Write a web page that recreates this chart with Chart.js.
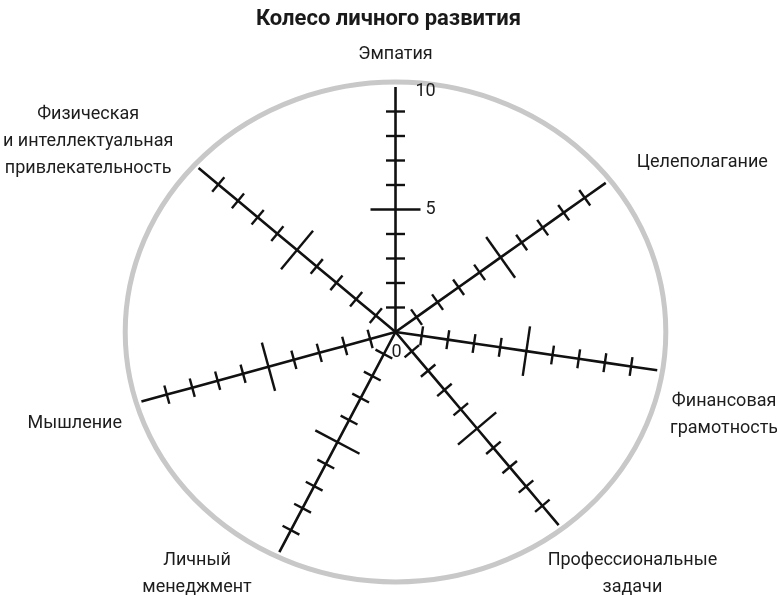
<!DOCTYPE html>
<html lang="ru">
<head>
<meta charset="utf-8">
<title>Колесо личного развития</title>
<script src="https://cdn.jsdelivr.net/npm/chart.js@4.4.1/dist/chart.umd.min.js"></script>
<style>
  html, body { margin: 0; padding: 0; background: #fff; }
</style>
</head>
<body>
<canvas id="wheel" width="777" height="596"></canvas>
<script>
// ================= DATA =================
const chartTitle = "Колесо личного развития";
const categories = [
    "Эмпатия",
    "Целеполагание",
    "Финансовая\nграмотность",
    "Профессиональные\nзадачи",
    "Личный\nменеджмент",
    "Мышление",
    "Физическая\nи интеллектуальная\nпривлекательность"
];
// direction of each spoke, degrees counter-clockwise from the right
const axisAngles = [90, 37.5, -9, -52, -116, -163.5, 138];
const scaleValues = [0, 1, 2, 3, 4, 5, 6, 7, 8, 9, 10];
const majorValue = 5;
const scaleLabelValues = [0, 5, 10];

// ================= LAYOUT =================
const labelAnchors = [
    { x: 0, y: 11.31, align: "center" },
    { x: 11.58, y: 6.9, align: "center" },
    { x: 12.4, y: -2.82, align: "center" },
    { x: 8.94, y: -9.31, align: "center" },
    { x: -7.49, y: -9.31, align: "center" },
    { x: -10.32, y: -3.73, align: "right" },
    { x: -11.6, y: 8.86, align: "center" }
];
const scaleLabelOffsets = [[1, 21], [35, 0], [30, 5]];
const RING = 10.2;
const LINE_GAP = 27;
const INK = "#111";

const rad = d => d * Math.PI / 180;

function pixelAngle(chart, deg) {
    const { x, y } = chart.scales;
    const kx = x.getPixelForValue(1) - x.getPixelForValue(0);
    const ky = y.getPixelForValue(0) - y.getPixelForValue(1);
    return Math.atan2(Math.sin(rad(deg)) * ky, Math.cos(rad(deg)) * kx) * 180 / Math.PI;
}

// ================= SPOKES =================
const first = scaleValues[0];
const last = scaleValues[scaleValues.length - 1];

const datasets = categories.map((name, i) => ({
    label: name,
    data: scaleValues.map(v => ({
        x: v * Math.cos(rad(axisAngles[i])),
        y: v * Math.sin(rad(axisAngles[i]))
    })),
    showLine: true,
    borderColor: INK,
    borderWidth: 2.6,
    pointStyle: "line",
    pointBorderColor: INK,
    pointBorderWidth: 2.4,
    pointRadius: ctx => {
        const v = scaleValues[ctx.dataIndex];
        if (v === first || v === last) return 0;
        return v === majorValue ? 25 : 9.5;
    },
    pointRotation: ctx => 90 - pixelAngle(ctx.chart, axisAngles[i])
}));

// ================= PLUGINS =================
const ringPlugin = {
    id: "ring",
    beforeDatasetsDraw(chart) {
        const { ctx, scales: { x, y } } = chart;
        const cx = x.getPixelForValue(0);
        const cy = y.getPixelForValue(0);
        ctx.save();
        ctx.beginPath();
        ctx.ellipse(cx, cy, x.getPixelForValue(RING) - cx, cy - y.getPixelForValue(RING), 0, 0, 2 * Math.PI);
        ctx.strokeStyle = "#c8c8c8";
        ctx.lineWidth = 5;
        ctx.stroke();
        ctx.restore();
    }
};

const labelPlugin = {
    id: "labels",
    afterDatasetsDraw(chart) {
        const { ctx, scales: { x, y } } = chart;
        ctx.save();
        ctx.fillStyle = "#1d1d1d";
        ctx.font = "18px Roboto";
        ctx.textBaseline = "middle";

        categories.forEach((name, i) => {
            const a = labelAnchors[i];
            const px = x.getPixelForValue(a.x);
            const py = y.getPixelForValue(a.y);
            ctx.textAlign = a.align;
            name.split("\n").forEach((line, k) => ctx.fillText(line, px, py + k * LINE_GAP));
        });

        // scale numbers along the first spoke
        ctx.textAlign = "center";
        scaleLabelValues.forEach((v, k) => {
            const px = x.getPixelForValue(v * Math.cos(rad(axisAngles[0])));
            const py = y.getPixelForValue(v * Math.sin(rad(axisAngles[0])));
            ctx.fillText(String(v), px + scaleLabelOffsets[k][0], py + scaleLabelOffsets[k][1]);
        });
        ctx.restore();
    }
};

// ================= CHART =================
Chart.defaults.font.family = "Roboto";

new Chart(document.getElementById("wheel"), {
    type: "scatter",
    data: { datasets },
    options: {
        responsive: false,
        animation: false,
        events: [],
        layout: { padding: 0, autoPadding: false },
        scales: {
            x: { type: "linear", min: -14.925, max: 14.396, display: false },
            y: { type: "linear", min: -10.776, max: 12.0, display: false }
        },
        plugins: {
            legend: { display: false },
            tooltip: { enabled: false },
            title: {
                display: true,
                text: chartTitle,
                color: "#1a1a1a",
                font: { size: 22, weight: "bold" },
                padding: { top: 6, bottom: 5.6 }
            }
        }
    },
    plugins: [ringPlugin, labelPlugin]
});
</script>
</body>
</html>
